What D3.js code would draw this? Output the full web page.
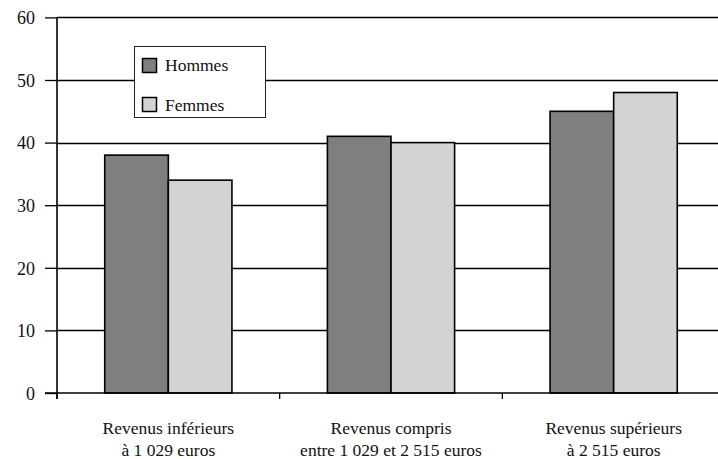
<!DOCTYPE html>
<html><head><meta charset="utf-8">
<script src="https://cdn.jsdelivr.net/npm/d3@7"></script>
<style>body{margin:0;background:#fff}svg{display:block}</style>
</head><body>
<svg id="c" width="718" height="459" font-family="Liberation Serif"></svg>
<script>
const categories = [["Revenus inférieurs","à 1 029 euros"],["Revenus compris","entre 1 029 et 2 515 euros"],["Revenus supérieurs","à 2 515 euros"]];
const seriesNames = ["Hommes","Femmes"];
const hommes = [38, 41, 45];
const femmes = [34, 40, 48];
const yTicks = [0,10,20,30,40,50,60];
const colors = ["#7f7f82","#d3d3d5"];
const FONT = "Liberation Serif";

const svg = d3.select("#c");
const x = d3.scaleBand().domain(d3.range(categories.length)).range([57, 725]).paddingInner(0).paddingOuter(0);
const y = d3.scaleLinear().domain([0,60]).range([393, 17.4]);

// gridlines
svg.append("g").selectAll("line").data(yTicks.filter(d=>d>0)).join("line")
  .attr("x1",57).attr("x2",718).attr("y1",d=>Math.round(y(d))+0.5).attr("y2",d=>Math.round(y(d))+0.5)
  .attr("stroke","#000").attr("stroke-width",1.3);

// y axis
const ya = svg.append("g").attr("transform","translate(57,0)")
  .call(d3.axisLeft(y).tickValues(yTicks).tickSize(12).tickPadding(10));
ya.attr("font-family", FONT).attr("font-size", 18);
ya.select(".domain").attr("stroke","#000").attr("stroke-width",1.6).attr("d","M0,"+y(60)+"V"+(y(0)+6));
ya.selectAll(".tick line").attr("stroke","#000").attr("stroke-width",1.3);
ya.selectAll(".tick text").attr("font-family",FONT).attr("font-size",18).attr("fill","#111").attr("dy","0.35em");

// legend
const lg = svg.append("g");
lg.append("rect").attr("x",134.5).attr("y",46.5).attr("width",131).attr("height",71).attr("fill","#fff").attr("stroke","#222").attr("stroke-width",1);
seriesNames.forEach((s,i)=>{
  const yy = [58.5, 97.5][i];
  lg.append("rect").attr("x",142.5).attr("y",yy).attr("width",14).attr("height",14).attr("fill",colors[i]).attr("stroke","#000").attr("stroke-width",1.5);
  lg.append("text").attr("x",165).attr("y",[71, 111][i]).attr("font-family",FONT).attr("font-size",17.5).attr("fill","#111").text(s);
});

// bars
const data = categories.map((c,i)=>({i, vals:[hommes[i], femmes[i]]}));
const bw = 63.6;
const g = svg.append("g");
data.forEach(d=>{
  const cx = x(d.i) + x.bandwidth()/2;
  d.vals.forEach((v,j)=>{
    g.append("rect").attr("x", cx - bw + j*bw).attr("y", y(v)).attr("width", bw).attr("height", y(0)-y(v))
      .attr("fill", colors[j]).attr("stroke","#000").attr("stroke-width",1.6);
  });
});

// x axis
const xa = svg.append("g").attr("transform","translate(0,393)");
xa.append("line").attr("x1",45).attr("x2",718).attr("y1",0).attr("y2",0).attr("stroke","#000").attr("stroke-width",1.6);
xa.selectAll(".t").data(d3.range(categories.length+1)).join("line")
  .attr("x1",d=>57+d*x.bandwidth()).attr("x2",d=>57+d*x.bandwidth()).attr("y1",0).attr("y2",6).attr("stroke","#000").attr("stroke-width",1.3);
categories.forEach((c,i)=>{
  const cx = x(i)+x.bandwidth()/2;
  const t = svg.append("text").attr("text-anchor","middle").attr("font-family",FONT).attr("font-size",17.5).attr("fill","#111");
  t.append("tspan").attr("x", cx).attr("y",434).text(c[0]);
  t.append("tspan").attr("x", cx).attr("y",455.5).text(c[1]);
});
</script>
</body></html>
